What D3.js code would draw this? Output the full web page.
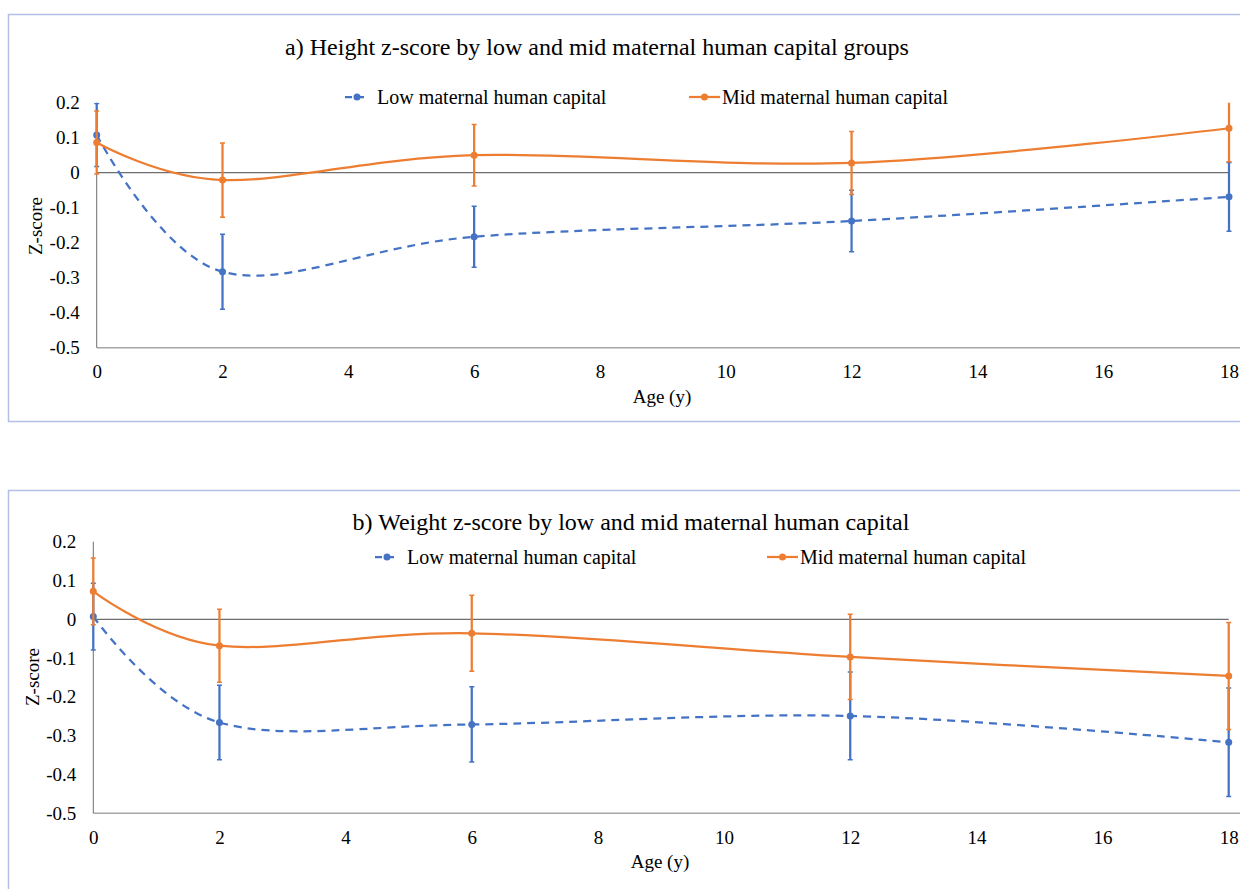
<!DOCTYPE html>
<html>
<head>
<meta charset="utf-8">
<script src="https://cdn.jsdelivr.net/npm/d3@7"></script>
<style>
  body { margin: 0; background: #fff; }
  text { font-family: "Liberation Serif", "Times New Roman", serif; fill: #000; }
</style>
</head>
<body>
<script>
// ages where the cohort was measured
const ages = [0, 2, 6, 12, 18];
const xTicks = [0, 2, 4, 6, 8, 10, 12, 14, 16, 18];
const yTicks = [0.2, 0.1, 0, -0.1, -0.2, -0.3, -0.4, -0.5];
const seriesNames = ["Low maternal human capital", "Mid maternal human capital"];

// a) height z-score
const heightLow = [0.108, -0.283, -0.183, -0.138, -0.069];
const heightLowErr = [0.090, 0.107, 0.087, 0.088, 0.098];
const heightMid = [0.086, -0.021, 0.050, 0.028, 0.127];
const heightMidErr = [0.090, 0.106, 0.088, 0.090, 0.096];

// b) weight z-score
const weightLow = [0.007, -0.266, -0.271, -0.249, -0.317];
const weightLowErr = [0.086, 0.096, 0.097, 0.113, 0.140];
const weightMid = [0.072, -0.068, -0.036, -0.097, -0.146];
const weightMidErr = [0.086, 0.094, 0.098, 0.110, 0.138];

const blue = "#4472c4", orange = "#ed7d31";

const svg = d3.select("body").append("svg")
  .attr("width", 1240).attr("height", 889);

function drawPanel(p) {
  const g = svg.append("g");

  // panel frame
  g.append("rect")
    .attr("x", 8.5).attr("y", p.boxTop + 0.5)
    .attr("width", 1300).attr("height", p.boxH)
    .attr("fill", "none").attr("stroke", "#b4bfe6").attr("stroke-width", 1.5);

  var x = d3.scaleLinear().domain([0, 18]).range([p.x0, p.x1]);
  var y = d3.scaleLinear().domain([-0.5, 0.2]).range([p.yb, p.yt]);

  // clip for error bars
  const clipId = "clip" + p.id;
  g.append("clipPath").attr("id", clipId)
    .append("rect")
    .attr("x", p.x0 - 10).attr("y", p.yt)
    .attr("width", p.x1 - p.x0 + 20).attr("height", p.yb - p.yt);

  // title
  g.append("text")
    .attr("x", p.titleX).attr("y", p.titleY)
    .attr("text-anchor", "middle")
    .style("font-size", "24px")
    .text(p.title);

  // y axis labels
  g.append("g")
    .attr("transform", "translate(" + p.x0 + ",0)")
    .call(d3.axisLeft(y).tickValues(yTicks).tickSize(0).tickPadding(17)
      .tickFormat(d => String(+d.toFixed(1))))
    .call(a => a.select(".domain").remove())
    .selectAll("text").style("font-size", "19px").attr("fill", "#000");

  // x axis labels
  g.append("g")
    .attr("transform", "translate(0," + p.yb + ")")
    .call(d3.axisBottom(x).tickValues(xTicks).tickSize(0).tickPadding(17))
    .call(a => a.select(".domain").remove())
    .selectAll("text").style("font-size", "19px").attr("fill", "#000");

  // axis lines
  g.append("line")
    .attr("x1", x(0)).attr("x2", 1240)
    .attr("y1", p.yb).attr("y2", p.yb)
    .attr("stroke", "#a6a6a6").attr("stroke-width", 1.5);
  g.append("line")
    .attr("x1", x(0)).attr("x2", x(0))
    .attr("y1", y(0.2)).attr("y2", p.yb)
    .attr("stroke", "#6e6e6e").attr("stroke-width", 1);
  g.append("line")
    .attr("x1", x(0)).attr("x2", x(18))
    .attr("y1", y(0)).attr("y2", y(0))
    .attr("stroke", "#6e6e6e").attr("stroke-width", 1.3);

  // axis titles
  g.append("text")
    .attr("x", p.xLabelX).attr("y", p.xLabelY)
    .attr("text-anchor", "middle").style("font-size", "19px")
    .text("Age (y)");
  g.append("text")
    .attr("transform", "translate(" + p.yLabelX + "," + p.yLabelY + ") rotate(-90)")
    .attr("text-anchor", "middle").attr("dy", "0.35em").style("font-size", "19px")
    .text("Z-score");

  // legend
  const leg = g.append("g");
  leg.append("line")
    .attr("x1", p.leg[0]).attr("x2", p.leg[0] + 24)
    .attr("y1", p.legY).attr("y2", p.legY)
    .attr("stroke", blue).attr("stroke-width", 2.25).attr("stroke-dasharray", "7,5");
  leg.append("circle").attr("cx", p.leg[0] + 12).attr("cy", p.legY).attr("r", 3.5).attr("fill", blue);
  leg.append("text").attr("x", p.leg[0] + 32).attr("y", p.legY).attr("dy", "0.33em")
    .style("font-size", "20px").text(seriesNames[0]);
  leg.append("line")
    .attr("x1", p.leg[1]).attr("x2", p.leg[1] + 31)
    .attr("y1", p.legY).attr("y2", p.legY)
    .attr("stroke", orange).attr("stroke-width", 2.25);
  leg.append("circle").attr("cx", p.leg[1] + 15.5).attr("cy", p.legY).attr("r", 3.5).attr("fill", orange);
  leg.append("text").attr("x", p.leg[1] + 33).attr("y", p.legY).attr("dy", "0.33em")
    .style("font-size", "20px").text(seriesNames[1]);

  var line = d3.line()
    .x(d => x(d.age))
    .y(d => y(d.v))
    .curve(d3.curveCardinal.tension(0));

  const series = [
    {vals: p.low, err: p.lowErr, color: blue, dash: "8,6"},
    {vals: p.mid, err: p.midErr, color: orange, dash: null}
  ];

  series.forEach(function(s) {
    const pts = ages.map((a, i) => ({age: a, v: s.vals[i], e: s.err[i]}));

    g.append("path")
      .datum(pts)
      .attr("d", line)
      .attr("fill", "none")
      .attr("stroke", s.color)
      .attr("stroke-width", 2.25)
      .attr("stroke-dasharray", s.dash);

    const eb = g.append("g").attr("clip-path", "url(#" + clipId + ")");
    eb.selectAll(".bar")
      .data(pts)
      .enter().append("line")
      .attr("x1", d => x(d.age)).attr("x2", d => x(d.age))
      .attr("y1", d => y(d.v + d.e)).attr("y2", d => y(d.v - d.e))
      .attr("stroke", s.color).attr("stroke-width", 2.25);
    [1, -1].forEach(function(sign) {
      eb.selectAll(".cap" + sign)
        .data(pts)
        .enter().append("line")
        .attr("x1", d => x(d.age) - 2.5).attr("x2", d => x(d.age) + 2.5)
        .attr("y1", d => y(d.v + sign * d.e)).attr("y2", d => y(d.v + sign * d.e))
        .attr("stroke", s.color).attr("stroke-width", 1.5);
    });

    g.selectAll(".dot")
      .data(pts)
      .enter().append("circle")
      .attr("cx", d => x(d.age))
      .attr("cy", d => y(d.v))
      .attr("r", 3.5)
      .attr("fill", s.color);
  });
}

drawPanel({
  id: "a", boxTop: 14, boxH: 407,
  x0: 96.7, x1: 1229, yt: 102.7, yb: 347.7,
  title: "a) Height z-score by low and mid maternal human capital groups",
  titleX: 597, titleY: 55,
  legY: 97, leg: [345, 689],
  xLabelX: 662, xLabelY: 403, yLabelX: 35, yLabelY: 226,
  low: heightLow, lowErr: heightLowErr, mid: heightMid, midErr: heightMidErr
});

drawPanel({
  id: "b", boxTop: 490, boxH: 420,
  x0: 93.3, x1: 1228.7, yt: 541.7, yb: 813.3,
  title: "b) Weight z-score by low and mid maternal human capital",
  titleX: 631, titleY: 530,
  legY: 557, leg: [375, 767],
  xLabelX: 660, xLabelY: 868, yLabelX: 32, yLabelY: 677,
  low: weightLow, lowErr: weightLowErr, mid: weightMid, midErr: weightMidErr
});
</script>
</body>
</html>
